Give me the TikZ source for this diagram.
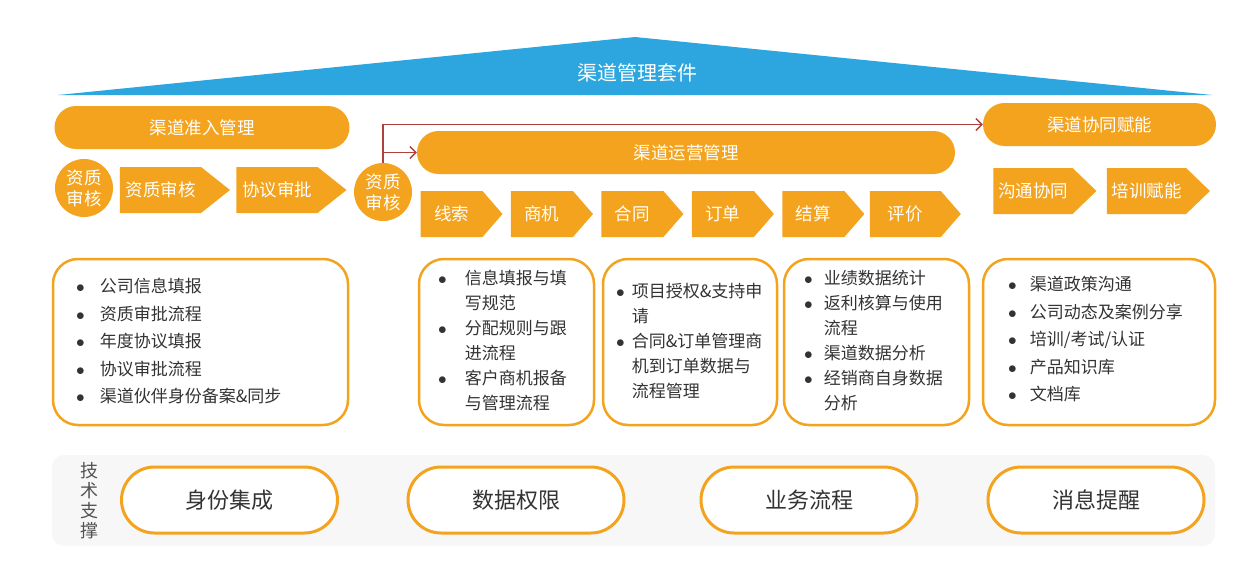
\documentclass[tikz,border=0pt]{standalone}
\usepackage{fontspec}
\setmainfont{Noto Sans CJK SC}
\usetikzlibrary{arrows.meta, positioning, shapes.symbols}
\definecolor{SuiteBlue}{HTML}{2DA6E0}
\definecolor{PillOrange}{HTML}{F3A31D}
\definecolor{LinkRed}{HTML}{B0403D}
\definecolor{PanelGray}{HTML}{F7F7F7}
\definecolor{TextGray}{HTML}{333333}
\newcommand{\dotitem}{$\bullet$}
\tikzset{
  pill/.style={fill=PillOrange, rounded corners=21.5pt, minimum height=43pt, inner sep=0pt, text=white, font=\fontsize{17.5}{20}\selectfont},
  badge/.style={circle, fill=PillOrange, minimum size=58pt, inner sep=0pt, align=center, text=white, font=\fontsize{17.5}{21}\selectfont},
  stepbox/.style={signal, signal to=east, fill=PillOrange, minimum height=46pt, inner sep=0pt, text=white, font=\fontsize{17.5}{20}\selectfont},
  listbox/.style={draw=PillOrange, line width=2.5pt, rounded corners=25pt, fill=white, minimum height=166pt},
  listtext/.style={anchor=west, inner sep=0pt, text=TextGray},
  techpill/.style={draw=PillOrange, line width=3pt, rounded corners=33pt, fill=white, minimum width=216pt, minimum height=66pt, text=TextGray, font=\fontsize{22}{24}\selectfont},
  redarrow/.style={-{Straight Barb[length=6pt, width=12pt]}, line width=1.4pt, draw=LinkRed}
}

\begin{document}
\begin{tikzpicture}[x=1pt, y=-1pt]
\useasboundingbox (0,0) rectangle (1260,586);
% suite roof
\fill[SuiteBlue] (58,95) -- (635,37) -- (1212,95) -- cycle;
\node[text=white, font=\fontsize{20}{24}\selectfont] (suite) at (637,73) {渠道管理套件};

% three stages
\node[pill, minimum width=295pt] (entry) at (202,127.5) {渠道准入管理};
\node[pill, minimum width=538pt] (ops) at (686,152.5) {渠道运营管理};
\node[pill, minimum width=233pt] (coop) at (1099.5,124.5) {渠道协同赋能};

\node[badge] (qa) at (84,188) {资质\\审核};
\node[stepbox, minimum width=110pt, signal pointer angle=77] (qcheck) at (160.5,190) {资质审核};
\node[stepbox, minimum width=110pt, signal pointer angle=77, right=6pt of qcheck] (agree) {协议审批};
\node[badge] (qb) at (383,192) {资质\\审核};

\node[stepbox, minimum width=82pt, signal pointer angle=98] (lead) at (451.5,214) {线索};
\node[stepbox, minimum width=82pt, signal pointer angle=98, right=8pt of lead] (oppo) {商机};
\node[stepbox, minimum width=82pt, signal pointer angle=98, right=8pt of oppo] (deal) {合同};
\node[stepbox, minimum width=82pt, signal pointer angle=98, right=8pt of deal] (order) {订单};
\node[stepbox, minimum width=82pt, signal pointer angle=98, right=8pt of order] (settle) {结算};
\node[stepbox, minimum width=91pt, signal pointer angle=98, right=5pt of settle] (rate) {评价};

\node[stepbox, minimum width=103pt, signal pointer angle=88] (talk) at (1033,191) {沟通协同};
\node[stepbox, minimum width=103pt, signal pointer angle=88, right=10pt of talk] (train) {培训赋能};

\draw[redarrow] (qb.north) |- (coop.west);
\draw[redarrow] (qb.north |- ops.west) -- (ops.west);

% detail lists
\node[listbox, minimum width=295pt] (box1) at (200.5,342) {};
\node[listbox, minimum width=175pt] (box2) at (506.5,342) {};
\node[listbox, minimum width=174pt] (box3) at (690,342) {};
\node[listbox, minimum width=185pt] (box4) at (876.5,342) {};
\node[listbox, minimum width=232pt] (box5) at (1099,342) {};

\node[listtext, font=\fontsize{17}{27.5}\selectfont] (list1) at (76,342) {%
\begin{tabular}{@{}c@{\hspace{15pt}}l@{}}
\dotitem & 公司信息填报\\
\dotitem & 资质审批流程\\
\dotitem & 年度协议填报\\
\dotitem & 协议审批流程\\
\dotitem & 渠道伙伴身份备案\&同步
\end{tabular}};
\node[listtext, font=\fontsize{17}{25}\selectfont] (list2) at (438,342) {%
\begin{tabular}{@{}c@{\hspace{18pt}}l@{}}
\dotitem & 信息填报与填\\
 & 写规范\\
\dotitem & 分配规则与跟\\
 & 进流程\\
\dotitem & 客户商机报备\\
 & 与管理流程
\end{tabular}};
\node[listtext, font=\fontsize{17}{25}\selectfont] (list3) at (616,342) {%
\begin{tabular}{@{}c@{\hspace{7pt}}l@{}}
\dotitem & 项目授权\&支持申\\
 & 请\\
\dotitem & 合同\&订单管理商\\
 & 机到订单数据与\\
 & 流程管理
\end{tabular}};
\node[listtext, font=\fontsize{17}{25}\selectfont] (list4) at (804,342) {%
\begin{tabular}{@{}c@{\hspace{11pt}}l@{}}
\dotitem & 业绩数据统计\\
\dotitem & 返利核算与使用\\
 & 流程\\
\dotitem & 渠道数据分析\\
\dotitem & 经销商自身数据\\
 & 分析
\end{tabular}};
\node[listtext, font=\fontsize{17}{27.5}\selectfont] (list5) at (1008,340) {%
\begin{tabular}{@{}c@{\hspace{13pt}}l@{}}
\dotitem & 渠道政策沟通\\
\dotitem & 公司动态及案例分享\\
\dotitem & 培训/考试/认证\\
\dotitem & 产品知识库\\
\dotitem & 文档库
\end{tabular}};

% technical support
\node[fill=PanelGray, rounded corners=12pt, minimum width=1163pt, minimum height=91pt] (techbg) at (633.5,500.5) {};
\node[text=TextGray!85, align=center, font=\fontsize{18}{20}\selectfont] (techlabel) at (89,501) {技\\术\\支\\撑};
\node[techpill] (ident) at (229.5,500) {身份集成};
\node[techpill] (perm) at (516,500) {数据权限};
\node[techpill] (flow) at (809,500) {业务流程};
\node[techpill] (notify) at (1096,500) {消息提醒};
\end{tikzpicture}
\end{document}
